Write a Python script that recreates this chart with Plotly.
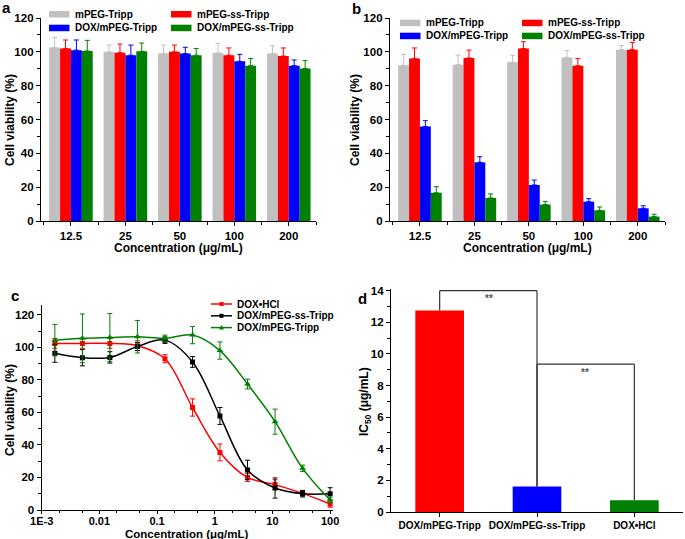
import plotly.graph_objects as go

W, H = 685, 539
FONT = "Liberation Sans, Arial, sans-serif"

# ---- data ----
conc_labels = ["12.5", "25", "50", "100", "200"]
bar_names = ["mPEG-Tripp", "mPEG-ss-Tripp", "DOX/mPEG-Tripp", "DOX/mPEG-ss-Tripp"]
bar_colors = ["#C0C0C0", "#FF0000", "#0000FF", "#008000"]

# panel a: cell viability, blank carriers / loaded (one-sided SD)
a_tripp = [102.5, 100.0, 99.0, 99.3, 99.0]
a_ss_tripp = [102.0, 99.5, 100.0, 98.0, 97.5]
a_dox_tripp = [101.0, 98.0, 99.0, 94.4, 91.8]
a_dox_ss_tripp = [100.5, 100.3, 98.0, 91.8, 90.2]
a_tripp_err = [6.1, 4.0, 5.0, 5.7, 4.6]
a_ss_tripp_err = [5.0, 5.1, 4.0, 4.3, 4.8]
a_dox_tripp_err = [6.0, 6.0, 3.7, 4.1, 3.4]
a_dox_ss_tripp_err = [6.3, 4.9, 4.0, 4.2, 4.6]

# panel b
b_tripp = [92.0, 92.4, 93.8, 96.7, 101.3]
b_ss_tripp = [96.0, 96.4, 101.9, 91.8, 101.3]
b_dox_tripp = [55.8, 34.7, 21.3, 11.4, 7.5]
b_dox_ss_tripp = [16.7, 13.6, 9.7, 6.3, 2.6]
b_tripp_err = [6.5, 5.7, 4.2, 4.0, 2.5]
b_ss_tripp_err = [6.3, 4.6, 4.1, 4.2, 4.3]
b_dox_tripp_err = [3.5, 3.3, 2.9, 1.8, 1.5]
b_dox_ss_tripp_err = [3.6, 2.4, 1.9, 2.0, 1.4]

# panel c: dose-response
c_conc = [0.00169, 0.00508, 0.0152, 0.0457, 0.137, 0.412, 1.23, 3.70, 11.1, 33.3, 100]
c_names = ["DOX\u2022HCl", "DOX/mPEG-ss-Tripp", "DOX/mPEG-Tripp"]
c_colors = ["#FF0000", "#000000", "#008000"]
c_symbols = ["square", "square", "triangle-up"]
c_hcl = [102.4, 102.4, 102.4, 101.0, 93.0, 63.0, 35.4, 20.0, 15.6, 10.2, 3.7]
c_hcl_err = [3.0, 3.0, 3.0, 3.0, 2.5, 5.3, 5.2, 2.5, 3.0, 1.5, 2.0]
c_ss = [96.3, 93.6, 93.8, 100.5, 104.4, 91.0, 57.8, 24.6, 13.5, 10.0, 10.0]
c_ss_err = [5.5, 5.0, 3.5, 2.5, 2.0, 3.3, 5.2, 6.0, 6.2, 2.0, 3.7]
c_tripp = [104.4, 105.5, 106.0, 106.5, 105.5, 107.5, 98.0, 77.4, 54.3, 25.6, 6.1]
c_tripp_err = [9.7, 15.0, 14.8, 10.0, 2.0, 5.3, 5.3, 3.0, 7.7, 2.0, 1.8]
c_tickvals = [0.001, 0.01, 0.1, 1, 10, 100]
c_ticktext = ["1E-3", "0.01", "0.1", "1", "10", "100"]

# panel d: IC50
d_names = ["DOX/mPEG-Tripp", "DOX/mPEG-ss-Tripp", "DOX\u2022HCl"]
d_ic50 = [12.74, 1.62, 0.74]
d_colors = ["#FF0000", "#0000FF", "#008000"]


def px(x):
    return x / W


def py(y):
    return 1 - y / H


fig = go.Figure()

xs = list(range(len(conc_labels)))
a_sets = [(a_tripp, a_tripp_err), (a_ss_tripp, a_ss_tripp_err),
          (a_dox_tripp, a_dox_tripp_err), (a_dox_ss_tripp, a_dox_ss_tripp_err)]
b_sets = [(b_tripp, b_tripp_err), (b_ss_tripp, b_ss_tripp_err),
          (b_dox_tripp, b_dox_tripp_err), (b_dox_ss_tripp, b_dox_ss_tripp_err)]

for sets, xa, ya in [(a_sets, "x", "y"), (b_sets, "x2", "y2")]:
    for (vals, err), name, col in zip(sets, bar_names, bar_colors):
        fig.add_trace(go.Bar(
            x=xs, y=vals, name=name, xaxis=xa, yaxis=ya, showlegend=False,
            offsetgroup=name,
            marker=dict(color=col, line=dict(width=0)),
            error_y=dict(type="data", array=err, arrayminus=[0] * len(err),
                         symmetric=False, color=col, thickness=1, width=2.5),
        ))

for vals, err, name, col, sym in zip([c_hcl, c_ss, c_tripp], [c_hcl_err, c_ss_err, c_tripp_err],
                                     c_names, c_colors, c_symbols):
    fig.add_trace(go.Scatter(
        x=c_conc, y=vals, name=name, xaxis="x3", yaxis="y3", showlegend=False,
        mode="lines+markers", line=dict(color=col, width=1.5, shape="spline", smoothing=1.0),
        marker=dict(symbol=sym, size=5 if sym == "square" else 6, color=col),
        error_y=dict(type="data", array=err, color=col, thickness=1, width=2.5),
    ))

fig.add_trace(go.Bar(
    x=list(range(len(d_names))), y=d_ic50, xaxis="x4", yaxis="y4", showlegend=False,
    width=0.5, marker=dict(color=d_colors, line=dict(width=0)),
))

tickfont = dict(family=FONT, size=11.5, color="black", weight="bold")
axis_common = dict(showline=True, linecolor="black", linewidth=1.3, ticks="outside",
                   ticklen=4, tickwidth=1.2, tickcolor="black", showgrid=False,
                   zeroline=False, tickfont=tickfont, automargin=False)

ab_x = dict(axis_common, range=[-0.55, 4.5], tickvals=xs, ticktext=conc_labels,
            minor=dict(ticks="outside", ticklen=3, dtick=0.5, tick0=0.5, tickcolor="black"))
ab_y = dict(axis_common, range=[0, 120], dtick=20,
            minor=dict(ticks="outside", ticklen=2.5, dtick=10, tickcolor="black"),
            domain=[py(221), py(18)])

fig.update_layout(
    width=W, height=H, margin=dict(l=0, r=0, t=0, b=0, autoexpand=False),
    paper_bgcolor="white", plot_bgcolor="white",
    font=dict(family=FONT, color="black", weight="bold"),
    barmode="group", bargap=0.2, bargroupgap=0,
    xaxis=dict(ab_x, domain=[px(41), px(316)], anchor="y"),
    yaxis=dict(ab_y, anchor="x"),
    xaxis2=dict(ab_x, domain=[px(390), px(665)], anchor="y2"),
    yaxis2=dict(ab_y, anchor="x2"),
    xaxis3=dict(axis_common, type="log", range=[-3, 2.05], domain=[px(41.7), px(333)],
                tickvals=c_tickvals, ticktext=c_ticktext, anchor="y3", ticklen=3,
                ticklabelstandoff=-2, tickfont=dict(tickfont, size=11),
                minor=dict(ticks="outside", ticklen=2, tickcolor="black")),
    yaxis3=dict(axis_common, range=[0, 126], dtick=20, domain=[py(510), py(305)], anchor="x3",
                minor=dict(ticks="outside", ticklen=2.5, dtick=10, tickcolor="black")),
    xaxis4=dict(axis_common, range=[-0.5, 2.5], domain=[px(391), px(683)], anchor="y4",
                tickvals=list(range(len(d_names))), ticktext=d_names, tickangle=0,
                tickfont=dict(tickfont, size=10)),
    yaxis4=dict(axis_common, range=[0, 14.1], dtick=2, domain=[py(512), py(289.1)], anchor="x4",
                minor=dict(ticks="outside", ticklen=2.5, dtick=1, tickcolor="black")),
)

shapes = []
ann = []


def text(x, y, s, size=12, xanchor="center", angle=0, color="black"):
    ann.append(dict(x=px(x), y=py(y), xref="paper", yref="paper", text=s, showarrow=False,
                    xanchor=xanchor, yanchor="middle", textangle=angle,
                    font=dict(family=FONT, size=size, color=color, weight="bold")))


# panel letters
text(6, 7, "a", 15)
text(356, 8, "b", 15)
text(15, 295, "c", 15)
text(362, 298, "d", 15)

# axis titles
text(10, 120, "Cell viability (%)", 12, angle=-90)
text(178.5, 248, "Concentration (\u03bcg/mL)", 12)
text(355, 120, "Cell viability (%)", 12, angle=-90)
text(527.5, 248, "Concentration (\u03bcg/mL)", 12)
text(10, 410, "Cell viability (%)", 12, angle=-90)
text(187, 533.5, "Concentration (\u03bcg/mL)", 11.5)
text(365, 402, "IC<sub>50</sub> (\u03bcg/mL)", 12, angle=-90)

# bar legends for a and b
for x0, rows in [(49, (14, 27.7)), (400, (22.7, 35.7))]:
    cols = (x0, x0 + 122)
    for i, (name, col) in enumerate(zip(bar_names, bar_colors)):
        cx = cols[i % 2]
        cy = rows[i // 2]
        shapes.append(dict(type="rect", xref="paper", yref="paper", x0=px(cx), x1=px(cx + 20.5),
                           y0=py(cy - 3), y1=py(cy + 3.5), fillcolor=col, line=dict(width=0)))
        text(cx + 23.5, cy, name, 10, xanchor="left")

# line legend for c
for i, (name, col, sym) in enumerate(zip(c_names, c_colors, c_symbols)):
    cy = 304 + 11.8 * i
    shapes.append(dict(type="line", xref="paper", yref="paper", x0=px(211), x1=px(232),
                       y0=py(cy), y1=py(cy), line=dict(color=col, width=1.5)))
    if sym == "square":
        shapes.append(dict(type="rect", xref="paper", yref="paper", x0=px(219.5), x1=px(223.5),
                           y0=py(cy - 2), y1=py(cy + 2), fillcolor=col, line=dict(width=0)))
    else:
        shapes.append(dict(type="path", xref="paper", yref="paper",
                           path=f"M {px(219)},{py(cy + 2)} L {px(224)},{py(cy + 2)} L {px(221.5)},{py(cy - 2.5)} Z",
                           fillcolor=col, line=dict(width=0)))
    text(235, cy, name, 10, xanchor="left")

# significance brackets in d
br = dict(type="line", xref="x4", yref="y4", line=dict(color="#333333", width=1.2))
shapes += [
    dict(br, x0=0, x1=0, y0=d_ic50[0], y1=14.0),
    dict(br, x0=0, x1=1, y0=14.0, y1=14.0),
    dict(br, x0=1, x1=1, y0=14.0, y1=d_ic50[1]),
    dict(br, x0=1, x1=1, y0=d_ic50[1], y1=9.35),
    dict(br, x0=1, x1=2, y0=9.35, y1=9.35),
    dict(br, x0=2, x1=2, y0=9.35, y1=d_ic50[2]),
]
for x, y in [(0.51, 13.5), (1.49, 8.85)]:
    ann.append(dict(x=x, y=y, xref="x4", yref="y4", text="**", showarrow=False,
                    font=dict(family=FONT, size=10, color="#555555", weight="bold")))

fig.update_layout(shapes=shapes, annotations=ann)

# drop the default page margin so the figure sits at the window's corner
fig.write_html("out.html", config={"displayModeBar": False},
               post_script="document.body.style.margin='0';document.body.style.overflow='hidden';")
